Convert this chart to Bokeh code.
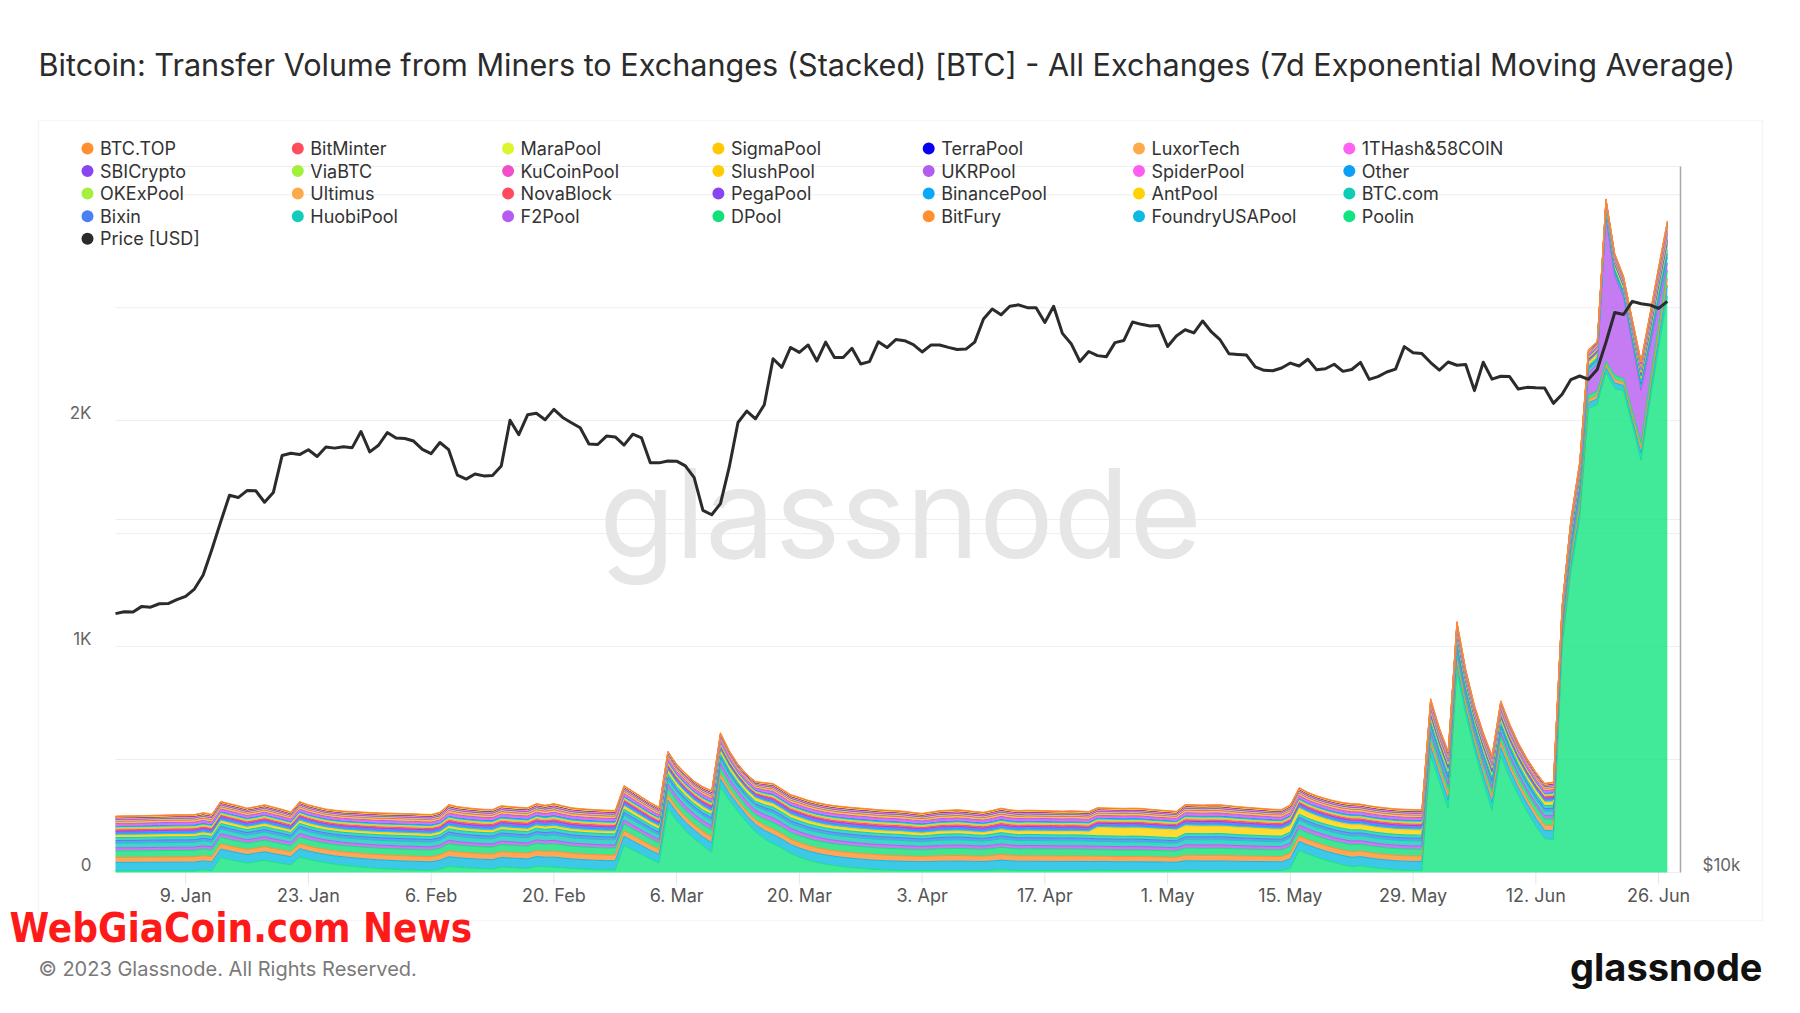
import pandas as pd
from bokeh.plotting import figure
from bokeh.models import ColumnDataSource, Range1d, LogScale, Label, BoxAnnotation
from bokeh.embed import file_html
from bokeh.resources import INLINE

# ---------------- data ----------------
start_date = "2023-01-01"
end_date = "2023-06-27"

pool_names = ["BTC.TOP", "BitMinter", "MaraPool", "SigmaPool", "TerraPool", "LuxorTech", "1THash&58COIN",
              "SBICrypto", "ViaBTC", "KuCoinPool", "SlushPool", "UKRPool", "SpiderPool", "Other",
              "OKExPool", "Ultimus", "NovaBlock", "PegaPool", "BinancePool", "AntPool", "BTC.com",
              "Bixin", "HuobiPool", "F2Pool", "DPool", "BitFury", "FoundryUSAPool", "Poolin"]
pool_colors = ["#ff9030", "#ff4d5e", "#dcf52c", "#ffc800", "#0a00f0", "#ffaa4a", "#ff62f2",
               "#8a45f2", "#a2f03a", "#f04fc9", "#ffcc00", "#b35cf0", "#ff5cf2", "#0aa0f5",
               "#a4f03c", "#ffaa4a", "#ff4b5c", "#8a45f2", "#0aa9f5", "#ffd200", "#0ecdb4",
               "#4a7ff5", "#10ccb9", "#b65bf0", "#12e07a", "#ff9030", "#0ebae2", "#12e57f"]
price_color = "#2b2b2b"

# top of the stack (all miners), BTC, daily
total_btc = [
    250, 251, 251, 252, 253, 254, 255, 256, 256, 257,
    265, 258, 315, 305, 296, 285, 292, 300, 290, 280,
    268, 314, 300, 290, 281, 276, 272, 270, 268, 266,
    264, 263, 262, 261, 260, 258, 257, 267, 301, 292,
    287, 283, 280, 279, 296, 292, 289, 287, 305, 298,
    305, 296, 287, 283, 280, 278, 276, 275, 385, 360,
    335, 310, 289, 537, 480, 440, 405, 380, 363, 619,
    540, 480, 435, 403, 398, 394, 370, 345, 333, 320,
    310, 302, 296, 292, 288, 285, 282, 278, 276, 274,
    271, 266, 262, 268, 274, 276, 278, 275, 270, 267,
    275, 285, 278, 274, 276, 275, 274, 273, 272, 273,
    272, 270, 287, 286, 285, 284, 285, 284, 280, 277,
    274, 271, 301, 300, 299, 300, 300, 296, 292, 289,
    286, 283, 280, 279, 300, 376, 355, 340, 328, 318,
    310, 305, 303, 296, 290, 286, 282, 280, 279, 278,
    770, 640, 537, 1111, 900, 740, 620, 518, 761, 660,
    575, 505, 445, 395, 400, 1184, 1566, 1818, 2316, 2350,
    2982, 2740, 2640, 2450, 2265, 2470, 2680, 2885]

poolin_btc = [
    7, 7, 7, 7, 7, 7, 7, 7, 7, 7,
    12, 8, 66, 57, 49, 42, 48, 54, 46, 40,
    34, 68, 58, 50, 43, 37, 32, 28, 24, 21,
    18, 16, 14, 12, 11, 10, 9, 15, 27, 24,
    21, 19, 17, 16, 24, 22, 20, 18, 27, 25,
    24, 21, 18, 16, 14, 12, 11, 11, 120, 100,
    80, 60, 42, 283, 230, 185, 150, 118, 90, 380,
    320, 270, 222, 180, 150, 128, 108, 85, 68, 55,
    45, 37, 31, 26, 22, 18, 15, 13, 11, 10,
    9, 9, 9, 9, 9, 9, 9, 9, 9, 9,
    10, 13, 11, 9, 9, 9, 9, 9, 9, 9,
    9, 9, 10, 10, 9, 9, 9, 9, 9, 9,
    9, 9, 10, 10, 9, 9, 9, 9, 9, 9,
    9, 9, 9, 9, 20, 97, 82, 68, 55, 44,
    34, 26, 30, 24, 19, 15, 12, 10, 9, 9,
    518, 400, 283, 887, 700, 540, 400, 274, 518, 420,
    340, 270, 205, 150, 146, 1000, 1332, 1566, 2053, 2072,
    2214, 2142, 2133, 1980, 1823, 2080, 2320, 2550]

f2pool_btc = [
    14, 14, 14, 14, 14, 14, 14, 14, 14, 14,
    14, 14, 16, 16, 15, 15, 15, 16, 15, 15,
    15, 16, 16, 15, 15, 15, 14, 14, 14, 14,
    14, 14, 14, 14, 14, 14, 14, 14, 15, 15,
    14, 14, 14, 14, 15, 15, 14, 14, 15, 15,
    15, 14, 14, 14, 14, 14, 14, 14, 17, 17,
    16, 16, 15, 20, 20, 19, 19, 18, 18, 22,
    22, 21, 21, 20, 20, 20, 19, 18, 18, 17,
    17, 16, 16, 16, 15, 15, 15, 15, 15, 15,
    15, 15, 15, 15, 15, 15, 15, 15, 15, 15,
    15, 15, 15, 15, 15, 15, 15, 15, 15, 15,
    15, 15, 15, 15, 15, 15, 15, 15, 15, 15,
    15, 15, 15, 15, 15, 15, 15, 15, 15, 15,
    15, 15, 15, 15, 15, 18, 18, 17, 17, 16,
    16, 16, 16, 16, 15, 15, 15, 15, 15, 15,
    18, 17, 16, 20, 19, 18, 17, 16, 18, 17,
    17, 16, 16, 15, 15, 20, 25, 40, 100, 120,
    635, 440, 360, 300, 230, 150, 90, 30]

antpool_btc = [
    10, 10, 10, 10, 10, 10, 10, 10, 10, 10,
    10, 10, 11, 11, 11, 10, 10, 11, 11, 10,
    10, 11, 11, 11, 10, 10, 10, 10, 10, 10,
    10, 10, 10, 10, 10, 10, 10, 10, 10, 10,
    10, 10, 10, 10, 10, 10, 10, 10, 10, 10,
    10, 10, 10, 10, 10, 10, 10, 10, 13, 13,
    12, 12, 12, 14, 14, 13, 13, 13, 12, 15,
    15, 14, 14, 14, 14, 14, 13, 13, 13, 13,
    12, 12, 12, 12, 12, 12, 12, 12, 12, 12,
    12, 12, 12, 12, 12, 12, 12, 12, 12, 12,
    12, 13, 13, 15, 15, 15, 15, 15, 15, 15,
    15, 15, 36, 36, 36, 36, 36, 36, 35, 35,
    35, 35, 34, 33, 33, 33, 32, 32, 32, 32,
    31, 31, 30, 30, 28, 26, 25, 24, 23, 23,
    22, 22, 22, 22, 22, 22, 22, 22, 22, 22,
    16, 15, 15, 16, 15, 15, 15, 15, 15, 15,
    15, 15, 15, 15, 15, 16, 16, 16, 15, 15,
    15, 15, 15, 15, 15, 15, 15, 15]

# relative layer thickness of the remaining (smaller) pools, read in BTC
other_pool_weights = {
    "FoundryUSAPool": 40, "BitFury": 24, "DPool": 30, "HuobiPool": 22, "Bixin": 12,
    "BTC.com": 14, "BinancePool": 10, "PegaPool": 10, "NovaBlock": 6, "Ultimus": 5,
    "OKExPool": 4, "Other": 8, "SpiderPool": 5, "UKRPool": 8, "SlushPool": 6,
    "KuCoinPool": 5, "ViaBTC": 4, "SBICrypto": 4, "1THash&58COIN": 3, "LuxorTech": 3,
    "TerraPool": 2, "SigmaPool": 2, "MaraPool": 2, "BitMinter": 2, "BTC.TOP": 2}

price_usd = [
    16625, 16688, 16680, 16863, 16836, 16951, 16955, 17091, 17196, 17446, 17934, 18869, 19909,
    20977, 20880, 21170, 21161, 20688, 21086, 22676, 22777, 22720, 22934, 22636, 23060, 23009,
    23074, 23031, 23774, 22840, 23139,
    23723, 23471, 23449, 23331, 22955, 22760, 23264, 22939, 21819, 21651, 21870, 21788, 21808,
    22220, 24307, 23623, 24565, 24641, 24327, 24829, 24437, 24188, 23947, 23198, 23175, 23561,
    23522, 23147,
    23646, 23475, 22362, 22353, 22435, 22429, 22219, 21718, 20363, 20187, 20633, 22163, 24197,
    24746, 24375, 25052, 27423, 26965, 28038, 27767, 28175, 27307, 28333, 27493, 27494, 27994,
    27139, 27268, 28348, 28033, 28478,
    28411, 28199, 27790, 28168, 28175, 28044, 27925, 27947, 28333, 29653, 30235, 29892, 30400,
    30485, 30318, 30315, 29445, 30397, 28823, 28245, 27277, 27817, 27591, 27525, 28307, 28422,
    29473, 29340, 29249, 29268,
    28091, 28680, 29031, 28847, 29534, 28904, 28454, 27694, 27659, 27621, 26987, 26808, 26784,
    26930, 27192, 27036, 27398, 26832, 26890, 27129, 26753, 26851, 27225, 26334, 26476, 26719,
    26868, 28085, 27745, 27702, 27219,
    26819, 27249, 27075, 27119, 25760, 27238, 26346, 26498, 26478, 25841, 25925, 25903, 25895,
    25124, 25577, 26327, 26510, 26336, 26851, 28328, 30027, 29912, 30695, 30548, 30480, 30271,
    30689]

tick_dates = ["2023-01-09", "2023-01-23", "2023-02-06", "2023-02-20", "2023-03-06", "2023-03-20",
              "2023-04-03", "2023-04-17", "2023-05-01", "2023-05-15", "2023-05-29", "2023-06-12",
              "2023-06-26"]
tick_labels = ["9. Jan", "23. Jan", "6. Feb", "20. Feb", "6. Mar", "20. Mar", "3. Apr", "17. Apr",
               "1. May", "15. May", "29. May", "12. Jun", "26. Jun"]
left_ticks = [0, 1000, 2000]
left_tick_labels = ["0", "1K", "2K"]
left_grid = [0, 500, 1000, 1500, 2000, 2500, 3000]
right_ticks = [10000]
right_tick_labels = ["$10k"]
right_grid = [20000, 40000]
volume_max = 3125
price_min, price_max = 10000, 40000

title_text = ("Bitcoin: Transfer Volume from Miners to Exchanges (Stacked) [BTC] - "
              "All Exchanges (7d Exponential Moving Average)")

# ---------------- table ----------------
dates = pd.date_range(start_date, end_date, freq="D")
n = len(dates)
for arr in (total_btc, poolin_btc, f2pool_btc, antpool_btc, price_usd):
    assert len(arr) == n, (len(arr), n)

rest = [t - a - b - c for t, a, b, c in zip(total_btc, poolin_btc, f2pool_btc, antpool_btc)]
wsum = float(sum(other_pool_weights.values()))
data = {"date": dates, "price": price_usd}
for name in pool_names:
    if name == "Poolin":
        data[name] = poolin_btc
    elif name == "F2Pool":
        data[name] = f2pool_btc
    elif name == "AntPool":
        data[name] = antpool_btc
    else:
        w = other_pool_weights[name] / wsum
        data[name] = [r * w for r in rest]
source = ColumnDataSource(data)

stack_names = list(reversed(pool_names))
stack_colors = list(reversed(pool_colors))

# ---------------- layout geometry (page pixels) ----------------
FONT = "Inter"
W, H = 1800, 1012
P_LEFT, P_RIGHT, P_TOP, P_BOTTOM = 115, 1680, 166, 872     # plotting area
DAYS_SPAN = 178.5                                          # days shown in the plotting area
px_per_day = (P_RIGHT - P_LEFT) / DAYS_SPAN
px_per_btc = (P_BOTTOM - P_TOP) / volume_max
px_per_oct = (P_BOTTOM - P_TOP) / 2.0                      # log2(40000/10000) = 2
MS_DAY = 86400000.0

t0 = pd.Timestamp(start_date).value / 1e6
plot_start = t0
plot_end = t0 + DAYS_SPAN * MS_DAY

# the frame covers the whole canvas so that titles, legend and footer are not clipped
x_rng = Range1d(t0 - P_LEFT / px_per_day * MS_DAY, t0 + (W - P_LEFT) / px_per_day * MS_DAY)
y_rng = Range1d(-(H - P_BOTTOM) / px_per_btc, P_BOTTOM / px_per_btc)
p_rng = Range1d(price_min * 2 ** (-(H - P_BOTTOM) / px_per_oct), price_min * 2 ** (P_BOTTOM / px_per_oct))

p = figure(width=W, height=H, x_range=x_rng, y_range=y_rng,
           x_axis_location=None, y_axis_location=None,
           output_backend="svg", toolbar_location=None,
           min_border=0, min_border_left=0, min_border_right=0, min_border_top=0, min_border_bottom=0,
           background_fill_color="white", border_fill_color="white", outline_line_color=None)
p.xgrid.visible = False
p.ygrid.visible = False
p.extra_y_ranges = {"price": p_rng}
p.extra_y_scales = {"price": LogScale()}


def sx(px):
    return px


def sy(py):
    return H - py


# outer panel box
p.add_layout(BoxAnnotation(left=sx(38), right=sx(1762), top=sy(120), bottom=sy(920),
                           left_units="screen", right_units="screen", top_units="screen",
                           bottom_units="screen", fill_color=None, line_color="#e2e2e2",
                           line_width=1.5, level="underlay"))

# horizontal grid lines (volume axis and price axis)
grid_src = ColumnDataSource(dict(x0=[plot_start] * len(left_grid), x1=[plot_end] * len(left_grid),
                                 y=left_grid))
p.segment("x0", "y", "x1", "y", source=grid_src, line_color="#eeeeee", line_width=1, level="underlay")
pgrid_src = ColumnDataSource(dict(x0=[plot_start] * len(right_grid), x1=[plot_end] * len(right_grid),
                                  y=right_grid))
p.segment("x0", "y", "x1", "y", source=pgrid_src, y_range_name="price", line_color="#eeeeee",
          line_width=1, level="underlay")

# x ticks (short light marks under the plotting area)
tick_ms = [pd.Timestamp(d).value / 1e6 for d in tick_dates]
tick_src = ColumnDataSource(dict(x=tick_ms, y0=[0] * len(tick_ms),
                                 y1=[-12 / px_per_btc] * len(tick_ms)))
p.segment("x", "y0", "x", "y1", source=tick_src, line_color="#e6e6e6", line_width=1)

# watermark
p.add_layout(Label(x=sx(900), y=sy(512), x_units="screen", y_units="screen", text="glassnode",
                   text_font=FONT, text_font_size="124px", text_color="#e6e6e6",
                   text_align="center", text_baseline="middle", level="underlay"))

# stacked areas
p.varea_stack(stackers=stack_names, x="date", color=stack_colors, fill_alpha=0.8, source=source)
p.vline_stack(stackers=stack_names, x="date", color=stack_colors, line_width=1, source=source)

# price line
p.line("date", "price", y_range_name="price", source=source, line_color=price_color,
       line_width=3, line_join="round")

# right axis line
axis_src = ColumnDataSource(dict(x=[plot_end], y0=[price_min], y1=[price_max]))
p.segment("x", "y0", "x", "y1", source=axis_src, y_range_name="price", line_color="#a8a8a8",
          line_width=1.5)

# tick labels
for ms, lab in zip(tick_ms, tick_labels):
    p.add_layout(Label(x=ms, y=sy(895), x_units="data", y_units="screen", text=lab,
                       text_font=FONT, text_font_size="18px", text_color="#555555",
                       text_align="center", text_baseline="middle"))
for v, lab in zip(left_ticks, left_tick_labels):
    p.add_layout(Label(x=sx(91), y=v, x_units="screen", y_units="data", y_offset=8, text=lab,
                       text_font=FONT, text_font_size="17px", text_color="#666666",
                       text_align="right", text_baseline="middle"))
for v, lab in zip(right_ticks, right_tick_labels):
    p.add_layout(Label(x=sx(1702), y=v, x_units="screen", y_units="data", y_range_name="price",
                       y_offset=8, text=lab, text_font=FONT, text_font_size="17px",
                       text_color="#666666", text_align="left", text_baseline="middle"))

# legend
legend_names = pool_names + ["Price [USD]"]
legend_colors = pool_colors + [price_color]
for i, (nm, col) in enumerate(zip(legend_names, legend_colors)):
    c, r = i % 7, i // 7
    cx = 87 + c * 210.3
    cy = 148 + r * 22.55
    p.add_layout(BoxAnnotation(left=sx(cx - 6), right=sx(cx + 6), top=sy(cy - 6), bottom=sy(cy + 6),
                               left_units="screen", right_units="screen", top_units="screen",
                               bottom_units="screen", fill_color=col, fill_alpha=1.0,
                               line_color=None, border_radius=6))
    p.add_layout(Label(x=sx(cx + 12.5), y=sy(cy), x_units="screen", y_units="screen", text=nm,
                       text_font=FONT, text_font_size="18px", text_color="#333333",
                       text_align="left", text_baseline="middle"))

# title and footer texts
p.add_layout(Label(x=sx(38), y=sy(64), x_units="screen", y_units="screen", text=title_text,
                   text_font=FONT, text_font_size="30.6px", text_color="#2b2b2b",
                   text_align="left", text_baseline="middle"))
p.add_layout(Label(x=sx(38), y=sy(968), x_units="screen", y_units="screen",
                   text="\u00a9 2023 Glassnode. All Rights Reserved.",
                   text_font=FONT, text_font_size="20px", text_color="#7a7a7a",
                   text_align="left", text_baseline="middle"))
p.add_layout(Label(x=sx(1762), y=sy(966), x_units="screen", y_units="screen", text="glassnode",
                   text_font=FONT, text_font_size="38px", text_font_style="bold",
                   text_color="#111111", text_align="right", text_baseline="middle"))
p.add_layout(Label(x=sx(9), y=sy(927), x_units="screen", y_units="screen", text="WebGiaCoin.com News",
                   text_font="'Liberation Sans Narrow', 'DejaVu Sans Condensed', 'Roboto Condensed', sans-serif",
                   text_font_size="40px", text_font_style="bold",
                   text_color="#ff1a1a", text_align="left", text_baseline="middle"))

open("out.html", "w").write(file_html(p, INLINE))
